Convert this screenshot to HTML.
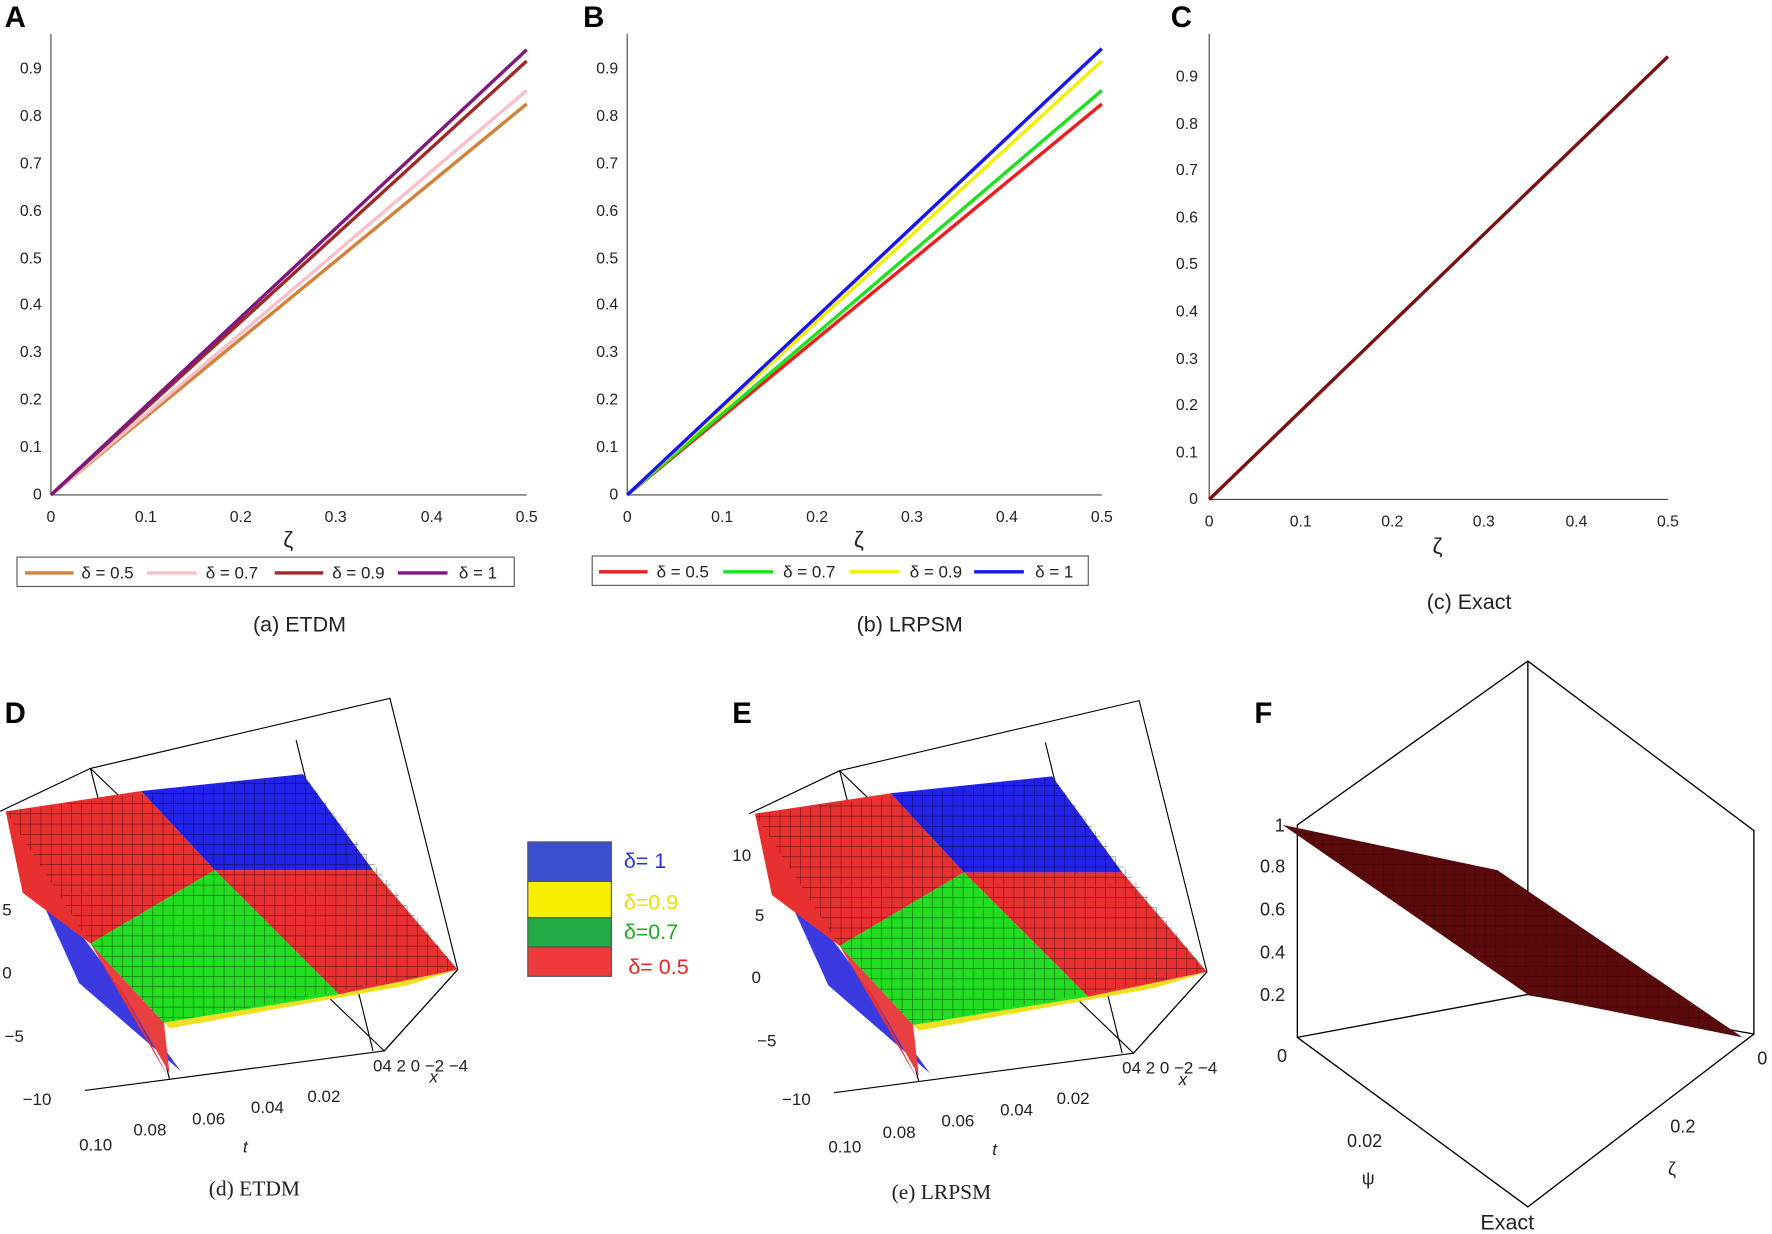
<!DOCTYPE html>
<html><head><meta charset="utf-8"><style>
html,body{margin:0;padding:0;background:#fff}
svg{display:block}
text{font-family:"Liberation Sans",sans-serif}
.t{font-family:"Liberation Sans",sans-serif;font-size:14px;fill:#222}
.cap{font-family:"Liberation Sans",sans-serif;font-size:19px;fill:#222}
.L{font-family:"Liberation Sans",sans-serif;font-weight:bold;font-size:26px}
</style></head><body>
<svg width="1772" height="1234" viewBox="0 0 1568 1092" xmlns="http://www.w3.org/2000/svg">
<rect width="1568" height="1092" fill="#fff"/>
<text class="L" x="4" y="24">A</text><text class="L" x="516" y="24">B</text><text class="L" x="1036" y="24">C</text>
<text class="L" x="4" y="640">D</text><text class="L" x="648" y="640">E</text><text class="L" x="1110" y="640">F</text>

<!-- Panel A -->
<g stroke="#444" stroke-width="1">
<line x1="45" y1="30" x2="45" y2="438"/><line x1="45" y1="438" x2="466" y2="438"/>
</g>
<g class="t" text-anchor="end">
<text x="37" y="442">0</text><text x="37" y="400">0.1</text><text x="37" y="358">0.2</text><text x="37" y="316">0.3</text><text x="37" y="274">0.4</text><text x="37" y="233">0.5</text><text x="37" y="191">0.6</text><text x="37" y="149">0.7</text><text x="37" y="107">0.8</text><text x="37" y="65">0.9</text>
</g>
<g class="t" text-anchor="middle">
<text x="45" y="462">0</text><text x="129" y="462">0.1</text><text x="213" y="462">0.2</text><text x="297" y="462">0.3</text><text x="382" y="462">0.4</text><text x="466" y="462">0.5</text>
</g>
<text class="t" x="255" y="484" style="font-size:20px" text-anchor="middle">ζ</text>
<g stroke-width="3" fill="none">
<line x1="45" y1="438" x2="466" y2="92" stroke="#d2813a"/>
<line x1="45" y1="438" x2="466" y2="80" stroke="#f7c0cb"/>
<line x1="45" y1="438" x2="466" y2="54" stroke="#a02828"/>
<line x1="45" y1="438" x2="466" y2="44" stroke="#80177f"/>
</g>
<rect x="15" y="493" width="440" height="26" fill="none" stroke="#555"/>
<g stroke-width="3"><line x1="22" y1="507" x2="65" y2="507" stroke="#d2813a"/><line x1="130" y1="507" x2="174" y2="507" stroke="#f7c0cb"/><line x1="243" y1="507" x2="286" y2="507" stroke="#a02828"/><line x1="352" y1="507" x2="396" y2="507" stroke="#80177f"/></g>
<g class="t" style="font-size:15px"><text x="72" y="512">δ = 0.5</text><text x="182" y="512">δ = 0.7</text><text x="294" y="512">δ = 0.9</text><text x="406" y="512">δ = 1</text></g>
<text class="cap" x="265" y="559" text-anchor="middle">(a)  ETDM</text>

<!-- Panel B -->
<g stroke="#444" stroke-width="1">
<line x1="555" y1="30" x2="555" y2="438"/><line x1="555" y1="438" x2="975" y2="438"/>
</g>
<g class="t" text-anchor="end">
<text x="547" y="442">0</text><text x="547" y="400">0.1</text><text x="547" y="358">0.2</text><text x="547" y="316">0.3</text><text x="547" y="274">0.4</text><text x="547" y="233">0.5</text><text x="547" y="191">0.6</text><text x="547" y="149">0.7</text><text x="547" y="107">0.8</text><text x="547" y="65">0.9</text>
</g>
<g class="t" text-anchor="middle">
<text x="555" y="462">0</text><text x="639" y="462">0.1</text><text x="723" y="462">0.2</text><text x="807" y="462">0.3</text><text x="891" y="462">0.4</text><text x="975" y="462">0.5</text>
</g>
<text class="t" x="760" y="484" style="font-size:20px" text-anchor="middle">ζ</text>
<g stroke-width="3" fill="none">
<line x1="555" y1="438" x2="975" y2="92" stroke="#ee1c1c"/>
<line x1="555" y1="438" x2="975" y2="80" stroke="#1de21d"/>
<line x1="555" y1="438" x2="975" y2="54" stroke="#f3ef00"/>
<line x1="555" y1="438" x2="975" y2="43" stroke="#1616ee"/>
</g>
<rect x="524" y="492" width="439" height="26" fill="none" stroke="#555"/>
<g stroke-width="3"><line x1="530" y1="506" x2="573" y2="506" stroke="#ee1c1c"/><line x1="640" y1="506" x2="684" y2="506" stroke="#1de21d"/><line x1="752" y1="506" x2="796" y2="506" stroke="#f3ef00"/><line x1="862" y1="506" x2="906" y2="506" stroke="#1616ee"/></g>
<g class="t" style="font-size:15px"><text x="581" y="511">δ = 0.5</text><text x="693" y="511">δ = 0.7</text><text x="805" y="511">δ = 0.9</text><text x="916" y="511">δ = 1</text></g>
<text class="cap" x="805" y="559" text-anchor="middle">(b)  LRPSM</text>

<!-- Panel C -->
<g stroke="#444" stroke-width="1">
<line x1="1070" y1="30" x2="1070" y2="442"/><line x1="1070" y1="442" x2="1476" y2="442"/>
</g>
<g class="t" text-anchor="end">
<text x="1060" y="446">0</text><text x="1060" y="405">0.1</text><text x="1060" y="363">0.2</text><text x="1060" y="322">0.3</text><text x="1060" y="280">0.4</text><text x="1060" y="238">0.5</text><text x="1060" y="197">0.6</text><text x="1060" y="155">0.7</text><text x="1060" y="114">0.8</text><text x="1060" y="72">0.9</text>
</g>
<g class="t" text-anchor="middle">
<text x="1070" y="466">0</text><text x="1151" y="466">0.1</text><text x="1232" y="466">0.2</text><text x="1313" y="466">0.3</text><text x="1395" y="466">0.4</text><text x="1476" y="466">0.5</text>
</g>
<text class="t" x="1272" y="490" style="font-size:20px" text-anchor="middle">ζ</text>
<line x1="1070" y1="442" x2="1476" y2="50" stroke="#7a1010" stroke-width="3"/>
<text class="cap" x="1300" y="539" text-anchor="middle">(c)  Exact</text>

<!-- Panel D & E surfaces -->
<defs>
<pattern id="grid" width="9" height="9" patternUnits="userSpaceOnUse"><path d="M9 0H0V9" fill="none" stroke="#000" stroke-width="0.8" opacity="0.7"/></pattern>
<g id="surf">
<polygon points="80,680 345,618 405,858 340,930" fill="none" stroke="#000"/>
<line x1="80" y1="680" x2="150" y2="955" stroke="#000"/>
<line x1="262" y1="655" x2="330" y2="930" stroke="#000"/>
<line x1="0" y1="718" x2="80" y2="680" stroke="#000"/>
<polygon points="20,760 80,838 160,948 70,870" fill="#3a3ae0"/>
<polygon points="80,835 150,955 110,880" fill="#e83030"/>
<polygon points="5,718 125,700 190,770 80,835 20,790" fill="#e83030"/>
<polygon points="125,700 268,685 330,770 190,770" fill="#2222e8"/>
<polygon points="190,770 330,770 405,858 300,880" fill="#e83030"/>
<polygon points="80,835 190,770 300,880 145,905" fill="#22dd22"/>
<polygon points="145,905 300,880 405,858 360,872 150,910" fill="#eee020"/>
<polygon points="80,835 145,905 150,950 110,880" fill="#e84040"/>
<polygon points="5,718 268,685 405,858 145,905 80,835" fill="url(#grid)"/>
<line x1="75" y1="965" x2="340" y2="930" stroke="#000"/>
<line x1="340" y1="930" x2="405" y2="858" stroke="#000"/>
<g style="font-family:'Liberation Serif',serif;font-size:15px;fill:#222">
<text x="70" y="1018">0.10</text><text x="118" y="1005">0.08</text><text x="170" y="995">0.06</text><text x="222" y="985">0.04</text><text x="272" y="975">0.02</text>
<text x="330" y="948">04 2 0 −2 −4</text><text x="215" y="1020" font-style="italic">t</text><text x="380" y="958" font-style="italic">x</text>
</g>
</g>
</defs>
<use href="#surf"/>
<g style="font-family:'Liberation Serif',serif;font-size:15px;fill:#222"><text x="2" y="810">5</text><text x="2" y="866">0</text><text x="4" y="922">−5</text><text x="20" y="978">−10</text></g>
<text class="cap" x="225" y="1058" text-anchor="middle" style="font-family:'Liberation Serif',serif">(d) ETDM</text>
<use href="#surf" transform="translate(663,2)"/>
<g style="font-family:'Liberation Serif',serif;font-size:15px;fill:#222"><text x="648" y="762">10</text><text x="668" y="815">5</text><text x="665" y="870">0</text><text x="670" y="926">−5</text><text x="692" y="978">−10</text></g>
<text class="cap" x="833" y="1061" text-anchor="middle" style="font-family:'Liberation Serif',serif">(e) LRPSM</text>

<!-- middle legend -->
<rect x="467" y="745" width="74" height="35" fill="#3a4fd0" stroke="#555"/>
<rect x="467" y="780" width="74" height="32" fill="#f6f000" stroke="#555"/>
<rect x="467" y="812" width="74" height="26" fill="#22aa44" stroke="#555"/>
<rect x="467" y="838" width="74" height="26" fill="#ee3a3a" stroke="#555"/>
<g style="font-family:'Liberation Serif',serif;font-size:19px">
<text x="552" y="768" fill="#2233dd">δ= 1</text><text x="552" y="805" fill="#e8e000">δ=0.9</text><text x="552" y="831" fill="#22aa22">δ=0.7</text><text x="556" y="862" fill="#ee2222">δ= 0.5</text>
</g>

<!-- Panel F -->
<g stroke="#000" stroke-width="1.2" fill="none">
<polygon points="1352,585 1552,735 1552,915 1352,1068 1148,918 1148,730"/>
<line x1="1352" y1="585" x2="1352" y2="880"/>
<line x1="1148" y1="918" x2="1352" y2="880"/><line x1="1552" y1="915" x2="1352" y2="880"/>
</g>
<polygon points="1135,730 1325,770 1542,918 1352,880" fill="#5a0a0a"/>
<polygon points="1135,730 1325,770 1542,918 1352,880" fill="url(#grid)" opacity="0.4"/>
<g style="font-family:'Liberation Serif',serif;font-size:16px;fill:#222">
<text x="1128" y="736">1</text><text x="1115" y="772">0.8</text><text x="1115" y="810">0.6</text><text x="1115" y="848">0.4</text><text x="1115" y="886">0.2</text>
<text x="1130" y="940">0</text><text x="1555" y="942">0</text><text x="1192" y="1015">0.02</text><text x="1478" y="1002">0.2</text>
<text x="1205" y="1048">ψ</text><text x="1476" y="1040">ζ</text><text x="1310" y="1088" style="font-size:19px">Exact</text>
</g>
</svg>
</body></html>
